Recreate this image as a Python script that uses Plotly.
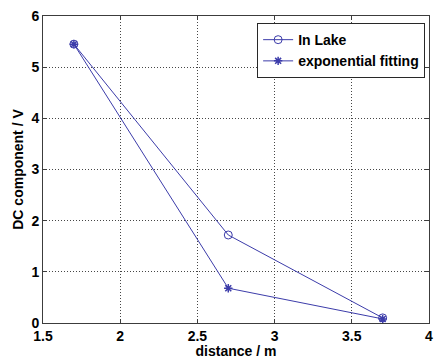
import plotly.graph_objects as go

distance = [1.7, 2.7, 3.7]
in_lake = [5.45, 1.72, 0.10]
exp_fit = [5.45, 0.68, 0.08]

x_ticks = [1.5, 2, 2.5, 3, 3.5, 4]
x_labels = ["1.5", "2", "2.5", "3", "3.5", "4"]
y_ticks = [0, 1, 2, 3, 4, 5, 6]

line_color = "rgb(60,60,170)"
font = dict(family="Liberation Sans, Arial, sans-serif", size=14, color="black", weight="bold")

fig = go.Figure()
fig.add_trace(go.Scatter(
    x=distance, y=in_lake, mode="lines+markers", name="In Lake",
    line=dict(color=line_color, width=1),
    marker=dict(symbol="circle-open", size=8, color=line_color, line=dict(width=1)),
))
fig.add_trace(go.Scatter(
    x=distance, y=exp_fit, mode="lines+markers", name="exponential fitting",
    line=dict(color=line_color, width=1),
    marker=dict(symbol="asterisk-open", size=7, color=line_color, line=dict(width=1.5)),
))

axis_common = dict(
    showgrid=True, gridcolor="rgb(70,70,70)", griddash="1px,2px", gridwidth=1,
    showline=True, linecolor="rgb(60,60,60)", linewidth=1, mirror="ticks",
    ticks="inside", ticklen=4, tickcolor="rgb(60,60,60)",
    zeroline=False, tickfont=font,
)

fig.update_layout(
    width=438, height=359,
    margin=dict(l=43, r=5, t=16, b=35),
    paper_bgcolor="white", plot_bgcolor="white",
    font=font,
    xaxis=dict(range=[1.5, 4], tickvals=x_ticks, ticktext=x_labels,
               title=dict(text="distance / m", font=font, standoff=0), **axis_common),
    yaxis=dict(range=[0, 6], tickvals=y_ticks,
               title=dict(text="DC component / V", font=font, standoff=4), **axis_common),
    legend=dict(x=0.99, y=0.977, xanchor="right", yanchor="top",
                bordercolor="rgb(40,40,40)", borderwidth=1, bgcolor="white",
                font=font, tracegroupgap=0, itemwidth=30),
    showlegend=True,
)

fig.write_html("out.html")
